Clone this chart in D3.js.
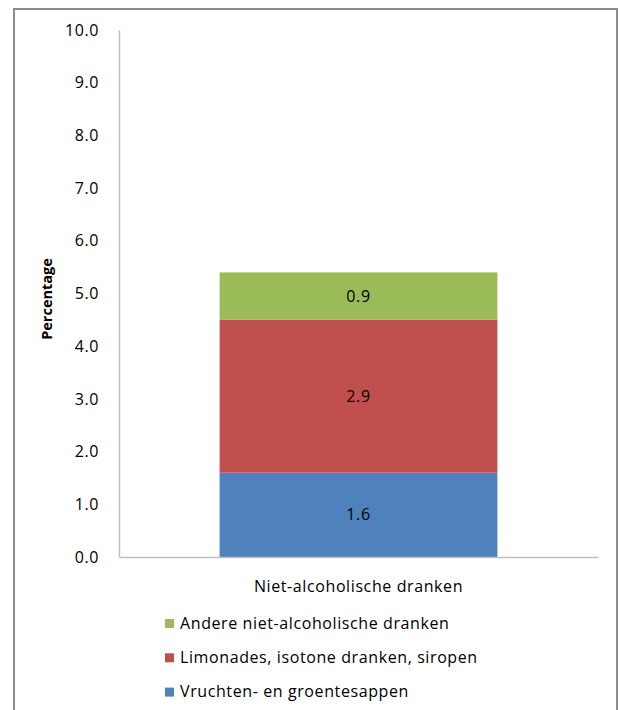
<!DOCTYPE html>
<html>
<head>
<meta charset="utf-8">
<script src="https://cdn.jsdelivr.net/npm/d3@7"></script>
<style>
  html, body { margin: 0; padding: 0; background: #fff; }
  svg text { font-family: "Open Sans", "Noto Sans", sans-serif; fill: #000; }
  .lbl { letter-spacing: 0.6px; }
</style>
</head>
<body>
<svg id="chart" width="620" height="710"></svg>
<script>
// Data
const categories = ["Niet-alcoholische dranken"];
const seriesNames = [
  "Vruchten- en groentesappen",
  "Limonades, isotone dranken, siropen",
  "Andere niet-alcoholische dranken"
];
const seriesValues = [
  [1.6],
  [2.9],
  [0.9]
];
const seriesColors = ["#4f81bd", "#c0504d", "#9bbb59"];
const yTicks = [0, 1, 2, 3, 4, 5, 6, 7, 8, 9, 10];

const FS = 16;
const svg = d3.select("#chart");

// Outer frame
svg.append("path")
  .attr("d", "M14,712 L14,9 L617,9 L617,712")
  .attr("fill", "none")
  .attr("stroke", "#8c8c8c")
  .attr("stroke-width", 2);

const plot = { left: 119, right: 598, top: 30, bottom: 557 };

const y = d3.scaleLinear().domain([0, 10]).range([plot.bottom, plot.top]);
const x = d3.scaleBand().domain(categories).range([plot.left, plot.right]).paddingInner(0.42).paddingOuter(0.21);

// Stack the series
const table = categories.map((c, i) => {
  const row = { category: c };
  seriesNames.forEach((s, j) => { row[s] = seriesValues[j][i]; });
  return row;
});
const stacked = d3.stack().keys(seriesNames)(table);

// Bars
const layers = svg.append("g").selectAll("g")
  .data(stacked).join("g")
  .attr("fill", (d, i) => seriesColors[i]);

layers.selectAll("rect")
  .data(d => d.map(p => ({ p, key: d.key })))
  .join("rect")
  .attr("x", d => x(d.p.data.category))
  .attr("width", x.bandwidth())
  .attr("y", d => y(d.p[1]))
  .attr("height", d => y(d.p[0]) - y(d.p[1]));

// Value labels
layers.selectAll("text")
  .data(d => d.map(p => ({ p, key: d.key })))
  .join("text")
  .attr("class", "lbl")
  .attr("x", d => x(d.p.data.category) + x.bandwidth() / 2)
  .attr("y", d => (y(d.p[0]) + y(d.p[1])) / 2)
  .attr("dy", "0.35em")
  .attr("text-anchor", "middle")
  .attr("font-size", FS)
  .text(d => (d.p[1] - d.p[0]).toFixed(1));

// Y axis
const yAxis = svg.append("g")
  .attr("transform", `translate(${plot.left},0)`)
  .call(d3.axisLeft(y).tickValues(yTicks).tickSize(0).tickPadding(20).tickFormat(d3.format(".1f")));
yAxis.select(".domain").attr("stroke", "#bfbfbf").attr("stroke-width", 1.5);
yAxis.selectAll("text").attr("class", "lbl").attr("font-size", FS).attr("fill", "#000")
  .style("font-family", '"Open Sans", "Noto Sans", sans-serif');

// X axis
const xAxis = svg.append("g")
  .attr("transform", `translate(0,${plot.bottom})`)
  .call(d3.axisBottom(x).tickSize(0).tickPadding(24));
xAxis.select(".domain").attr("stroke", "#bfbfbf").attr("stroke-width", 1.5);
xAxis.selectAll("text").attr("class", "lbl").attr("font-size", FS).attr("fill", "#000")
  .style("font-family", '"Open Sans", "Noto Sans", sans-serif');

// Y axis title
svg.append("text")
  .attr("transform", "translate(52,299) rotate(-90)")
  .attr("text-anchor", "middle")
  .attr("font-size", 14.5)
  .attr("font-weight", "bold")
  .text("Percentage");

// Legend (top entry is the top of the stack)
const legendOrder = [2, 1, 0];
const legend = svg.append("g").selectAll("g")
  .data(legendOrder).join("g")
  .attr("transform", (d, i) => `translate(165,${623 + i * 34.3})`);
legend.append("rect")
  .attr("x", 0).attr("y", -4).attr("width", 9).attr("height", 9)
  .attr("fill", d => seriesColors[d]);
legend.append("text")
  .attr("class", "lbl")
  .attr("x", 15).attr("y", 0).attr("dy", "0.35em")
  .attr("font-size", FS)
  .text(d => seriesNames[d]);
</script>
</body>
</html>
